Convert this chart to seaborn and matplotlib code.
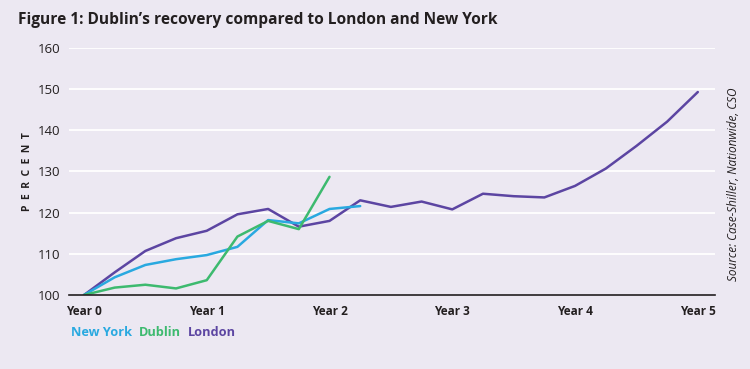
import numpy as np
import pandas as pd
import matplotlib
matplotlib.use("Agg")
import matplotlib.pyplot as plt
import seaborn as sns

# quarterly index values (Year 0 = 100)
london = [100, 105.5, 110.7, 113.8, 115.6, 119.6, 120.9, 116.6, 118.0, 123.0, 121.4,
          122.7, 120.8, 124.6, 124.0, 123.7, 126.5, 130.7, 136.2, 142.1, 149.3]
new_york = [100, 104.3, 107.3, 108.7, 109.7, 111.7, 118.2, 117.4, 120.9, 121.6]
dublin = [100, 101.8, 102.5, 101.6, 103.6, 114.2, 118.0, 116.0, 128.7]

series_names = ["New York", "Dublin", "London"]
year_labels = ["Year 0", "Year 1", "Year 2", "Year 3", "Year 4", "Year 5"]
y_ticks = [100, 110, 120, 130, 140, 150, 160]

colors = {"New York": "#29a9e0", "Dublin": "#3dba6f", "London": "#5c45a2"}
bg = "#ece8f2"

frames = []
for name, vals in zip(series_names, [new_york, dublin, london]):
    frames.append(pd.DataFrame({"year": np.arange(len(vals)) / 4, "value": vals, "city": name}))
df = pd.concat(frames, ignore_index=True)

sns.set_theme(style="white")
plt.rcParams["font.family"] = ["Open Sans", "DejaVu Sans"]

fig = plt.figure(figsize=(7.5, 3.69), dpi=100, facecolor=bg)
ax = fig.add_axes([0.092, 0.2005, 0.861, 0.6695])
ax.set_facecolor(bg)

for y in y_ticks[1:]:
    ax.axhline(y, color="white", lw=1.3, zorder=0)

sns.lineplot(data=df, x="year", y="value", hue="city", palette=colors,
             hue_order=["London", "New York", "Dublin"], linewidth=1.8,
             legend=False, ax=ax)

ax.set_xlim(-0.122, 5.138)
ax.set_ylim(100, 160)
ax.set_xticks(range(6))
ax.set_xticklabels(year_labels, fontweight="bold", fontsize=8.5, color="#231f20")
ax.set_yticks(y_ticks)
ax.set_yticklabels([str(v) for v in y_ticks], fontsize=9.5, color="#231f20")
ax.tick_params(axis="x", length=4, width=0.8, color="#231f20", pad=3, direction="out")
ax.tick_params(axis="y", length=0, pad=6)
ax.set_xlabel("")
ax.set_ylabel("P  E  R  C  E  N  T", fontsize=7.5, fontweight="bold", color="#231f20",
              va="center")
ax.yaxis.set_label_coords(-0.065, 0.5)
for s in ["top", "right", "left"]:
    ax.spines[s].set_visible(False)
ax.spines["bottom"].set_color("#231f20")
ax.spines["bottom"].set_linewidth(1.2)

fig.text(0.024, 0.945, "Figure 1: Dublin\u2019s recovery compared to London and New York",
         fontsize=11.2, fontweight="bold", color="#231f20", va="center", ha="left")
fig.text(0.978, 0.50, "Source: Case-Shiller, Nationwide, CSO", rotation=90, style="italic",
         fontsize=8.5, color="#231f20", va="center", ha="center")

handles = [plt.Line2D([], [], color=colors[n], lw=0) for n in series_names]
leg = fig.legend(handles, series_names, loc="center left", bbox_to_anchor=(0.079, 0.098),
                 ncol=3, frameon=False, handlelength=0, handletextpad=0, columnspacing=0.55,
                 prop={"weight": "bold", "size": 9.2})
for t, n in zip(leg.get_texts(), series_names):
    t.set_color(colors[n])

fig.savefig("out.png", dpi=100, facecolor=bg)
